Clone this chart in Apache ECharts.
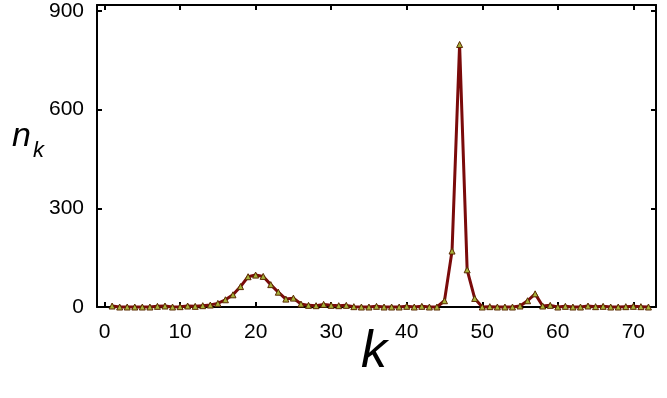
<!DOCTYPE html>
<html>
<head>
<meta charset="utf-8">
<script src="https://cdn.jsdelivr.net/npm/echarts@6/dist/echarts.min.js"></script>
<style>html,body{margin:0;padding:0;background:#fff}#c{width:667px;height:398px}</style>
</head>
<body>
<div id="c"></div>
<script>
const kValues = [];
for (let i = 1; i <= 72; i++) kValues.push(i);
const nValues = [3,0,0,0,0,0,2,3,0,1,
  3,2,4,6,11,22,37,62,92,97,
  93,68,45,24,27,9,5,4,8,5,
  4,5,1,0,0,2,0,0,0,2,
  0,2,0,0,19,170,798,113,26,0,
  1,0,0,0,3,19,40,3,5,0,
  2,0,0,3,1,2,0,0,1,2,
  1,0];
const xTicks = [0,10,20,30,40,50,60,70];
const yTicks = [0,300,600,900];

const data = kValues.map((k, i) => [k, nValues[i]]);
const chart = echarts.init(document.getElementById('c'), null, {renderer: 'canvas'});
const font = 'Liberation Sans, Arial, sans-serif';
const axisCommon = {
  axisLine: {show: true, onZero: false, lineStyle: {color: '#000', width: 2}},
  axisTick: {show: true, inside: true, length: 5, lineStyle: {color: '#000', width: 2}},
  splitLine: {show: false}
};
chart.setOption({
  animation: false,
  backgroundColor: '#fff',
  grid: {left: 97, right: 11, top: 5, bottom: 91, containLabel: false},
  xAxis: [
    Object.assign({type: 'value', min: -1, max: 73, splitNumber: 7, position: 'bottom',
      axisLabel: {show: true, color: '#000', fontSize: 21, fontFamily: font, margin: 15,
        showMinLabel: false, showMaxLabel: false,
        formatter: v => xTicks.includes(v) ? String(v) : ''}}, axisCommon),
    Object.assign({type: 'value', min: -1, max: 73, splitNumber: 7, position: 'top',
      axisLabel: {show: false}}, axisCommon)
  ],
  yAxis: [
    Object.assign({type: 'value', min: 0, max: 918, interval: 300, position: 'left',
      axisLabel: {show: true, color: '#000', fontSize: 21, fontFamily: font, margin: 13,
        showMaxLabel: false,
        formatter: v => yTicks.includes(v) ? String(v) : ''}}, axisCommon),
    Object.assign({type: 'value', min: 0, max: 918, interval: 300, position: 'right',
      axisLabel: {show: false}}, axisCommon)
  ],
  graphic: [
    {type: 'text', left: 361, top: 327, style: {text: 'k', fill: '#000', fontSize: 52, fontStyle: 'italic', fontFamily: font}},
    {type: 'text', left: 12, top: 120, style: {text: '{n|n}{s|k}', fill: '#000', fontFamily: font,
      rich: {n: {fontSize: 34, fontStyle: 'italic', fontFamily: font, fill: '#000'},
             s: {fontSize: 22, fontStyle: 'italic', fontFamily: font, fill: '#000', padding: [28, 0, 0, 2]}}}}
  ],
  series: [{
    type: 'line',
    data: data,
    xAxisIndex: 0, yAxisIndex: 0,
    clip: false,
    symbol: 'triangle',
    symbolSize: 6,
    showAllSymbol: true,
    lineStyle: {color: '#7a0a0a', width: 3},
    itemStyle: {color: '#a6b23a', borderColor: '#5a2a00', borderWidth: 1}
  }]
});
</script>
</body>
</html>
